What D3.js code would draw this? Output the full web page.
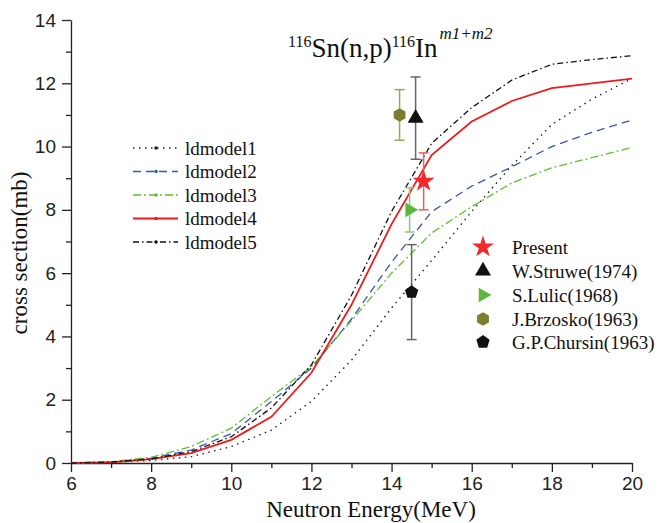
<!DOCTYPE html>
<html>
<head>
<meta charset="utf-8">
<script src="https://cdn.jsdelivr.net/npm/d3@7"></script>
<style>
  body { margin: 0; background: #fff; }
</style>
</head>
<body>
<div id="chart"></div>
<script>
// neutron energies (MeV) of the model curves
var energies = [6, 7, 8, 9, 10, 11, 12, 13, 14, 15, 16, 17, 18, 19, 20]
var ldmodel1 = [0, 0.02, 0.08, 0.2, 0.52, 1.04, 1.95, 3.25, 4.9, 6.4, 7.95, 9.4, 10.7, 11.5, 12.15]
var ldmodel2 = [0, 0.03, 0.15, 0.41, 0.93, 1.94, 3.0, 4.55, 6.35, 7.94, 8.75, 9.36, 10.0, 10.45, 10.84]
var ldmodel3 = [0, 0.04, 0.18, 0.52, 1.1, 2.1, 3.05, 4.5, 6.0, 7.27, 8.1, 8.85, 9.33, 9.65, 9.97]
var ldmodel4 = [0, 0.02, 0.12, 0.31, 0.73, 1.46, 2.85, 5.0, 7.55, 9.73, 10.79, 11.44, 11.85, 12.0, 12.15]
var ldmodel5 = [0, 0.03, 0.13, 0.36, 0.83, 1.74, 3.1, 5.3, 7.95, 10.1, 11.23, 12.1, 12.6, 12.75, 12.87]
var modelNames = ["ldmodel1", "ldmodel2", "ldmodel3", "ldmodel4", "ldmodel5"]

// experimental points
var expNames = ["Present", "W.Struwe(1974)", "S.Lulic(1968)", "J.Brzosko(1963)", "G.P.Chursin(1963)"]
var expE = [14.8, 14.6, 14.45, 14.2, 14.5]
var expV = [8.9, 10.9, 8.0, 11.0, 5.4]
var expErr = [0.9, 1.3, 0.7, 0.8, 1.5]

var xTicks = [6, 8, 10, 12, 14, 16, 18, 20]
var yTicks = [0, 2, 4, 6, 8, 10, 12, 14]

var width = 659, height = 523
var margin = {top: 20, bottom: 60, left: 71, right: 27}

var svg = d3.select("#chart").append("svg")
  .attr("width", width)
  .attr("height", height)

var x = d3.scaleLinear().domain([6, 20]).range([margin.left, width - margin.right])
var y = d3.scaleLinear().domain([0, 14]).range([height - margin.bottom, margin.top])

var serif = "'Liberation Serif', 'Times New Roman', serif"
var sans = "'Liberation Sans', Arial, sans-serif"

// axes: major ticks + minor ticks
var xAxis = svg.append("g")
  .attr("transform", "translate(0," + y(0) + ")")
  .call(d3.axisBottom(x).tickValues(xTicks).tickSize(9).tickPadding(5).tickSizeOuter(0))
xAxis.append("g").call(d3.axisBottom(x).tickValues([7, 9, 11, 13, 15, 17, 19]).tickSize(5).tickFormat("")).select(".domain").remove()

var yAxis = svg.append("g")
  .attr("transform", "translate(" + x(6) + ",0)")
  .call(d3.axisLeft(y).tickValues(yTicks).tickSize(9).tickPadding(6).tickSizeOuter(0))
yAxis.append("g").call(d3.axisLeft(y).tickValues([1, 3, 5, 7, 9, 11, 13]).tickSize(5).tickFormat("")).select(".domain").remove()

svg.selectAll(".domain, .tick line").attr("stroke", "#222").attr("stroke-width", 1.3)
svg.selectAll(".tick text").attr("font-family", sans).attr("font-size", 19).attr("fill", "#222")

// axis titles
svg.append("text")
  .attr("x", 371).attr("y", 517)
  .attr("text-anchor", "middle")
  .attr("font-family", serif).attr("font-size", 23).attr("fill", "#111")
  .text("Neutron Energy(MeV)")

svg.append("text")
  .attr("transform", "translate(27,253) rotate(-90)")
  .attr("text-anchor", "middle")
  .attr("font-family", serif).attr("font-size", 23).attr("fill", "#111")
  .text("cross section(mb)")

// title
var title = svg.append("text").attr("x", 288).attr("y", 57)
  .attr("font-family", serif).attr("fill", "#111")
title.append("tspan").attr("font-size", 16).attr("y", 47).text("116")
title.append("tspan").attr("font-size", 27).attr("y", 57).text("Sn(n,p)")
title.append("tspan").attr("font-size", 16).attr("y", 47).text("116")
title.append("tspan").attr("font-size", 27).attr("y", 57).text("In")
title.append("tspan").attr("font-size", 17).attr("font-style", "italic").attr("y", 39).attr("dx", 2).text("m1+m2")

// model curves
var models = [ldmodel1, ldmodel2, ldmodel3, ldmodel4, ldmodel5]
var colors = ["#222", "#3556b8", "#5cbf2e", "#f01a1a", "#111"]
var dashes = ["1.5,4.5", "8,5", "8,3,2,3", null, "6,3,1.5,3"]
var widths = [1.4, 1.3, 1.3, 1.8, 1.3]

var line = d3.line()
  .x(function(d){ return x(d[0]) })
  .y(function(d){ return y(d[1]) })

for (var i = 0; i < models.length; i++) {
  var pts = energies.map(function(e, j){ return [e, models[i][j]] })
  svg.append("path")
    .datum(pts)
    .attr("d", line)
    .attr("fill", "none")
    .attr("stroke", colors[i])
    .attr("stroke-width", widths[i])
    .attr("stroke-dasharray", dashes[i])
}

// left legend
var legY = [148, 171.5, 195, 218.5, 242]
for (var i = 0; i < modelNames.length; i++) {
  svg.append("line")
    .attr("x1", 133).attr("x2", 178)
    .attr("y1", legY[i]).attr("y2", legY[i])
    .attr("stroke", colors[i]).attr("stroke-width", widths[i])
    .attr("stroke-dasharray", dashes[i])
  svg.append("circle")
    .attr("cx", 156).attr("cy", legY[i]).attr("r", 1.8)
    .attr("fill", colors[i])
  svg.append("text")
    .attr("x", 185).attr("y", legY[i]).attr("dy", "0.35em")
    .attr("font-family", serif).attr("font-size", 19).attr("fill", "#111")
    .text(modelNames[i])
}

// markers
function polygon(n, r, rot) {
  var p = []
  for (var k = 0; k < n; k++) {
    var a = rot + k * 2 * Math.PI / n
    p.push([r * Math.cos(a), r * Math.sin(a)])
  }
  return "M" + p.join("L") + "Z"
}
var expColors = ["#f42828", "#111", "#5cb83c", "#7d7d30", "#111"]
var barColors = ["#f06060", "#666", "#8ccc70", "#a0a060", "#666"]
var shapes = [
  d3.symbol().type(d3.symbolStar).size(150)(),
  d3.symbol().type(d3.symbolTriangle).size(110)(),
  polygon(3, 8.5, 0),
  polygon(6, 6.8, Math.PI / 2),
  polygon(5, 7, -Math.PI / 2)
]

for (var i = 0; i < expNames.length; i++) {
  var cx = x(expE[i]), yHi = y(expV[i] + expErr[i]), yLo = y(expV[i] - expErr[i])
  var g = svg.append("g").attr("stroke", barColors[i]).attr("stroke-width", 1.5)
  g.append("line").attr("x1", cx).attr("x2", cx).attr("y1", yHi).attr("y2", yLo)
  g.append("line").attr("x1", cx - 5).attr("x2", cx + 5).attr("y1", yHi).attr("y2", yHi)
  g.append("line").attr("x1", cx - 5).attr("x2", cx + 5).attr("y1", yLo).attr("y2", yLo)
  svg.append("path")
    .attr("d", shapes[i])
    .attr("transform", "translate(" + cx + "," + y(expV[i]) + ")")
    .attr("fill", expColors[i])
}

// right legend
var legY2 = [247, 271, 295, 319, 342]
for (var i = 0; i < expNames.length; i++) {
  svg.append("path")
    .attr("d", shapes[i])
    .attr("transform", "translate(483," + legY2[i] + ")")
    .attr("fill", expColors[i])
  svg.append("text")
    .attr("x", 512).attr("y", legY2[i]).attr("dy", "0.35em")
    .attr("font-family", serif).attr("font-size", 19).attr("fill", "#111")
    .text(expNames[i])
}
</script>
</body>
</html>
